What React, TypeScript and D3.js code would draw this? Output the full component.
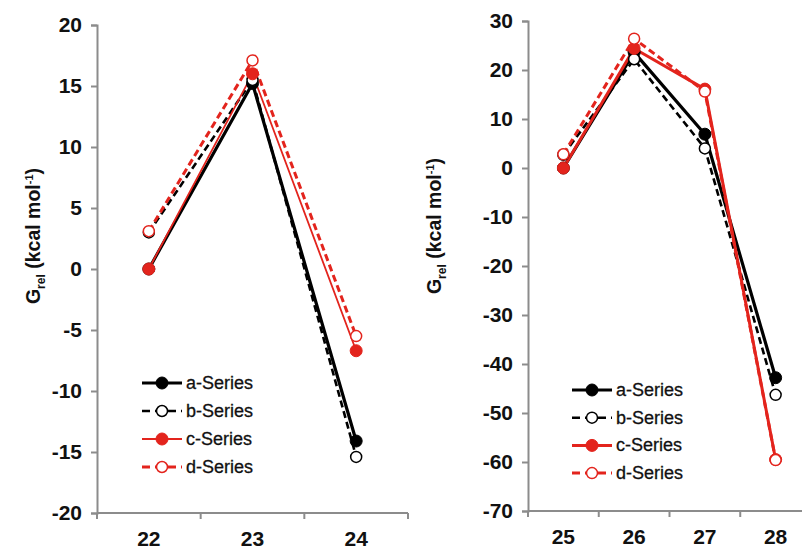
import React, { useEffect, useRef } from "react";
import * as d3 from "d3";

// left panel
const leftCats = ["22", "23", "24"];
const leftA = [0, 15.2, -14.1];
const leftB = [3.0, 15.5, -15.4];
const leftC = [0, 16.0, -6.7];
const leftD = [3.1, 17.1, -5.5];
const leftTicks = [20, 15, 10, 5, 0, -5, -10, -15, -20];

// right panel
const rightCats = ["25", "26", "27", "28"];
const rightA = [0, 23.6, 6.9, -42.8];
const rightB = [2.7, 22.2, 4.0, -46.3];
const rightC = [0, 24.4, 16.1, -59.5];
const rightD = [2.8, 26.4, 15.6, -59.6];
const rightTicks = [30, 20, 10, 0, -10, -20, -30, -40, -50, -60, -70];

const seriesNames = ["a-Series", "b-Series", "c-Series", "d-Series"];
const RED = "#e3241d";
const FONT = "Liberation Sans, Arial, sans-serif";

type Style = { color: string; dash: string | null; filled: boolean; width: number };

const styles: Style[] = [
  { color: "#000", dash: null, filled: true, width: 3.2 },
  { color: "#000", dash: "7,4", filled: false, width: 2.6 },
  { color: RED, dash: null, filled: true, width: 1.8 },
  { color: RED, dash: "7,4", filled: false, width: 3 },
];

type Panel = {
  cats: string[];
  data: number[][];
  ticks: number[];
  x0: number; x1: number; yTop: number; yBot: number;
  titleX: number; titleY: number;
  legX: number; legY: number; legStep: number;
  cWidth: number;
};

function drawPanel(svg: d3.Selection<SVGSVGElement, unknown, null, undefined>, p: Panel) {
  const x = d3.scaleBand().domain(p.cats).range([p.x0, p.x1]);
  const y = d3.scaleLinear()
    .domain([p.ticks[p.ticks.length - 1], p.ticks[0]])
    .range([p.yBot, p.yTop]);
  const axisColor = "#8c8c8c";
  const g = svg.append("g");

  // y axis
  const yAxis = d3.axisLeft(y).tickValues(p.ticks).tickSize(6).tickPadding(9)
    .tickFormat(d => String(d));
  const yG = g.append("g").attr("transform", `translate(${p.x0},0)`).call(yAxis);
  yG.select(".domain").attr("stroke", axisColor).attr("stroke-width", 2);
  yG.selectAll(".tick line").attr("stroke", axisColor).attr("stroke-width", 2);
  yG.selectAll(".tick text")
    .attr("font-family", FONT)
    .attr("font-weight", "bold").attr("font-size", 21).attr("fill", "#111");

  // x axis: ticks at band boundaries, labels at centres
  const xG = g.append("g");
  xG.append("line")
    .attr("x1", p.x0).attr("x2", p.x1).attr("y1", p.yBot).attr("y2", p.yBot)
    .attr("stroke", axisColor).attr("stroke-width", 2);
  const bounds = p.cats.map(c => x(c) as number).concat([p.x1]);
  xG.selectAll("line.t").data(bounds).join("line").attr("class", "t")
    .attr("x1", d => d).attr("x2", d => d)
    .attr("y1", p.yBot).attr("y2", p.yBot + 6)
    .attr("stroke", axisColor).attr("stroke-width", 2);
  xG.selectAll("text").data(p.cats).join("text")
    .attr("x", d => (x(d) as number) + x.bandwidth() / 2)
    .attr("y", p.yBot + 33)
    .attr("text-anchor", "middle")
    .attr("font-family", FONT)
    .attr("font-weight", "bold").attr("font-size", 21).attr("fill", "#111")
    .text(d => d);

  // y title
  const t = g.append("text")
    .attr("transform", `translate(${p.titleX},${p.titleY}) rotate(-90)`)
    .attr("text-anchor", "middle")
    .attr("font-family", FONT)
    .attr("font-weight", "bold").attr("font-size", 19.5).attr("fill", "#111");
  t.append("tspan").text("G");
  t.append("tspan").attr("font-size", 12).attr("dy", 5).text("rel");
  t.append("tspan").attr("dy", -5).text(" (kcal mol");
  t.append("tspan").attr("font-size", 11).attr("dy", -7).text("-1");
  t.append("tspan").attr("dy", 7).text(")");

  // series
  const cx = (i: number) => (x(p.cats[i]) as number) + x.bandwidth() / 2;
  const line = d3.line<number>().x((_, i) => cx(i)).y(d => y(d));
  p.data.forEach((vals, si) => {
    const st = styles[si];
    const w = si === 2 ? p.cWidth : st.width;
    g.append("path").datum(vals)
      .attr("d", line)
      .attr("fill", "none")
      .attr("stroke", st.color)
      .attr("stroke-width", w)
      .attr("stroke-dasharray", st.dash)
      .attr("stroke-linejoin", "round");
  });
  p.data.forEach((vals, si) => {
    const st = styles[si];
    g.append("g").selectAll("circle").data(vals).join("circle")
      .attr("cx", (_, i) => cx(i)).attr("cy", d => y(d))
      .attr("r", st.filled ? 6 : 5.5)
      .attr("fill", st.filled ? st.color : "#fff")
      .attr("stroke", st.color)
      .attr("stroke-width", st.filled ? 1 : 1.5);
  });

  // legend
  const leg = g.append("g");
  seriesNames.forEach((name, si) => {
    const st = styles[si];
    const w = si === 2 ? p.cWidth : st.width;
    const yy = p.legY + si * p.legStep;
    leg.append("line")
      .attr("x1", p.legX).attr("x2", p.legX + 40).attr("y1", yy).attr("y2", yy)
      .attr("stroke", st.color).attr("stroke-width", w)
      .attr("stroke-dasharray", st.dash ? "8,5" : null);
    leg.append("circle")
      .attr("cx", p.legX + 20).attr("cy", yy).attr("r", st.filled ? 6 : 5.5)
      .attr("fill", st.filled ? st.color : "#fff")
      .attr("stroke", st.color).attr("stroke-width", st.filled ? 1 : 1.5);
    leg.append("text")
      .attr("x", p.legX + 44).attr("y", yy + 6)
      .attr("font-family", FONT)
      .attr("font-size", 18).attr("fill", "#111")
      .attr("stroke", "#111").attr("stroke-width", 0.3)
      .text(name);
  });
}

export default function App() {
  const ref = useRef<SVGSVGElement>(null);

  useEffect(() => {
    const svg = d3.select(ref.current as SVGSVGElement);
    svg.selectAll("*").remove();
    drawPanel(svg, {
      cats: leftCats, data: [leftA, leftB, leftC, leftD], ticks: leftTicks,
      x0: 97, x1: 408, yTop: 25, yBot: 513,
      titleX: 40, titleY: 236,
      legX: 142, legY: 383, legStep: 28, cWidth: 1.8,
    });
    drawPanel(svg, {
      cats: rightCats, data: [rightA, rightB, rightC, rightD], ticks: rightTicks,
      x0: 528, x1: 811, yTop: 21, yBot: 511,
      titleX: 441, titleY: 226,
      legX: 572, legY: 390, legStep: 27.7, cWidth: 3,
    });
  }, []);

  return (
    <svg ref={ref} width={802} height={551}
      style={{ position: "absolute", left: 0, top: 0, background: "#fff" }} />
  );
}
